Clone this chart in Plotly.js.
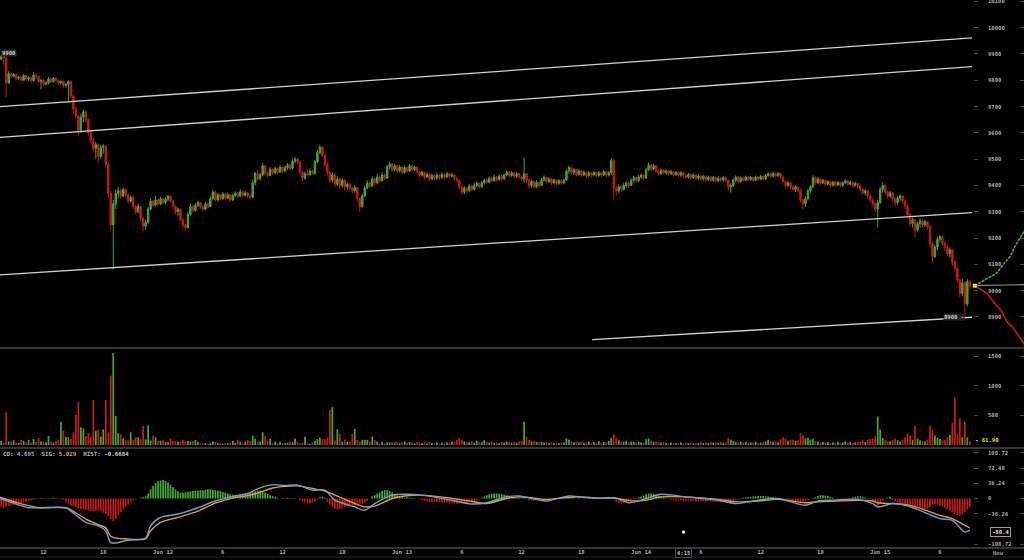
<!DOCTYPE html>
<html><head><meta charset="utf-8">
<script src="https://cdn.plot.ly/plotly-3.0.1.min.js"></script>
<style>html,body{margin:0;padding:0;background:#000;}#chart{width:1024px;height:560px;}</style>
</head><body><div id="chart"></div>
<script>
// ---- time base (15-minute candles, hours since Jun 11 00:00) ----
const startHour = 7.5;
const stepHour = 0.25;
const firstOpen = 9872;

// ---- candle data ----
const closes = [
9880,9890,9885,9790,9825,9815,9822,9808,9812,9800,
9818,9805,9810,9798,9820,9815,9795,9800,9785,9790,
9805,9795,9808,9800,9790,9795,9780,9785,9795,9740,
9690,9665,9610,9660,9680,9650,9600,9570,9540,9555,
9510,9545,9550,9480,9370,9250,9330,9370,9380,9360,
9385,9365,9340,9355,9320,9300,9320,9275,9245,9260,
9310,9340,9325,9345,9330,9350,9335,9348,9360,9340,
9320,9300,9310,9270,9250,9240,9290,9320,9305,9325,
9335,9318,9310,9330,9320,9350,9375,9345,9365,9350,
9368,9352,9365,9345,9362,9370,9360,9375,9362,9372,
9360,9355,9410,9445,9425,9440,9475,9445,9438,9462,
9448,9465,9450,9470,9455,9468,9478,9465,9492,9500,
9490,9450,9428,9445,9440,9455,9445,9490,9525,9545,
9515,9480,9450,9420,9440,9405,9425,9400,9420,9395,
9405,9390,9380,9392,9350,9320,9360,9390,9410,9398,
9425,9410,9432,9418,9440,9428,9470,9482,9460,9475,
9455,9470,9450,9468,9455,9475,9460,9470,9452,9440,
9450,9432,9442,9425,9438,9428,9440,9430,9442,9432,
9445,9435,9440,9428,9420,9395,9375,9390,9380,9398,
9385,9400,9408,9395,9410,9420,9412,9428,9418,9432,
9422,9435,9425,9440,9450,9438,9448,9435,9445,9432,
9425,9445,9420,9400,9415,9395,9412,9400,9420,9430,
9415,9425,9410,9420,9408,9418,9410,9420,9455,9468,
9450,9460,9442,9455,9440,9450,9438,9448,9440,9450,
9438,9448,9440,9452,9440,9448,9495,9390,9380,9395,
9385,9400,9410,9400,9420,9430,9418,9432,9440,9428,
9460,9478,9462,9475,9455,9445,9458,9448,9455,9445,
9452,9442,9450,9440,9448,9438,9432,9442,9430,9440,
9428,9436,9425,9435,9422,9432,9420,9430,9418,9428,
9420,9430,9420,9395,9400,9420,9432,9415,9428,9420,
9432,9422,9430,9420,9432,9424,9435,9425,9438,9445,
9435,9445,9438,9446,9432,9415,9400,9410,9395,9385,
9395,9382,9345,9330,9350,9380,9395,9430,9410,9425,
9410,9420,9405,9415,9400,9412,9402,9412,9400,9410,
9418,9405,9412,9400,9408,9398,9385,9372,9380,9360,
9345,9330,9310,9335,9385,9400,9375,9360,9372,9350,
9335,9352,9360,9340,9322,9290,9255,9270,9230,9255,
9265,9250,9262,9245,9180,9130,9165,9195,9205,9180,
9165,9140,9155,9110,9085,9040,8990,9030,8950,9035,9020];
const highs = [
9895,9898,9905,9888,9835,9830,9828,9825,9818,9815,
9825,9820,9815,9812,9830,9828,9818,9805,9805,9795,
9812,9810,9812,9810,9805,9800,9798,9790,9800,9790,
9745,9700,9670,9672,9690,9685,9655,9610,9580,9565,
9560,9555,9558,9552,9490,9380,9345,9385,9395,9390,
9392,9388,9370,9362,9358,9325,9330,9322,9280,9268,
9318,9350,9345,9360,9350,9358,9352,9356,9365,9362,
9345,9325,9318,9312,9275,9255,9300,9330,9325,9332,
9342,9338,9325,9338,9335,9358,9385,9380,9372,9368,
9375,9370,9372,9368,9370,9378,9375,9385,9380,9380,
9376,9368,9420,9452,9460,9448,9485,9478,9452,9470,
9465,9472,9468,9478,9472,9475,9485,9482,9500,9508,
9505,9495,9455,9452,9462,9465,9460,9498,9535,9555,
9550,9520,9488,9455,9450,9445,9435,9430,9428,9425,
9412,9410,9395,9400,9395,9355,9368,9400,9420,9415,
9435,9430,9445,9436,9450,9445,9478,9490,9485,9482,
9478,9478,9472,9476,9470,9482,9478,9476,9472,9455,
9456,9452,9450,9445,9445,9442,9448,9444,9450,9446,
9452,9448,9448,9442,9432,9425,9400,9398,9395,9405,
9402,9410,9415,9412,9418,9425,9425,9435,9432,9440,
9436,9442,9440,9446,9456,9455,9455,9452,9452,9448,
9438,9505,9448,9425,9422,9418,9420,9415,9428,9438,
9432,9432,9428,9426,9422,9425,9422,9426,9462,9475,
9470,9466,9462,9462,9458,9456,9452,9455,9450,9456,
9452,9455,9450,9458,9455,9455,9502,9500,9400,9405,
9400,9410,9416,9415,9428,9436,9432,9440,9446,9442,
9468,9487,9482,9482,9478,9460,9465,9462,9462,9458,
9460,9456,9456,9455,9455,9452,9442,9448,9445,9446,
9442,9442,9440,9440,9438,9438,9435,9436,9432,9435,
9432,9436,9434,9422,9408,9428,9438,9435,9434,9432,
9438,9435,9436,9432,9438,9436,9440,9438,9444,9450,
9450,9452,9450,9452,9448,9435,9418,9416,9412,9400,
9402,9398,9388,9350,9358,9388,9402,9440,9435,9432,
9428,9426,9422,9420,9418,9418,9415,9418,9414,9416,
9424,9420,9418,9414,9414,9410,9402,9390,9386,9382,
9365,9350,9335,9345,9395,9410,9405,9380,9380,9375,
9355,9360,9368,9362,9345,9328,9295,9278,9272,9262,
9275,9270,9270,9265,9250,9185,9175,9205,9212,9210,
9185,9175,9165,9160,9115,9090,9045,9045,9035,9045,9040];
const lows = [
9870,9875,9860,9735,9785,9808,9810,9800,9800,9795,
9798,9800,9798,9790,9795,9805,9788,9765,9778,9780,
9785,9790,9792,9795,9782,9785,9772,9770,9722,9730,
9670,9655,9590,9600,9640,9640,9590,9560,9530,9500,
9490,9500,9520,9470,9355,9232,9080,9310,9350,9350,
9355,9358,9330,9335,9310,9290,9295,9265,9225,9230,
9255,9305,9318,9320,9322,9325,9328,9330,9340,9335,
9312,9290,9285,9262,9235,9228,9235,9285,9298,9300,
9318,9310,9300,9305,9312,9318,9345,9340,9340,9342,
9345,9345,9348,9338,9340,9355,9352,9355,9355,9358,
9352,9348,9352,9400,9418,9420,9435,9438,9430,9435,
9440,9442,9442,9448,9448,9450,9460,9458,9460,9485,
9482,9440,9420,9422,9435,9438,9440,9442,9485,9520,
9508,9470,9440,9410,9412,9395,9398,9385,9392,9380,
9385,9380,9370,9372,9340,9298,9315,9355,9385,9390,
9395,9402,9405,9410,9415,9420,9425,9462,9452,9455,
9448,9450,9442,9445,9448,9452,9452,9455,9445,9432,
9435,9425,9428,9418,9420,9420,9422,9422,9425,9425,
9428,9428,9430,9420,9412,9385,9365,9368,9372,9375,
9378,9380,9395,9388,9390,9405,9405,9408,9412,9415,
9415,9418,9418,9422,9435,9432,9432,9428,9430,9426,
9418,9410,9410,9390,9392,9388,9390,9392,9398,9415,
9408,9410,9402,9405,9400,9402,9404,9405,9418,9445,
9442,9440,9435,9438,9432,9435,9430,9432,9432,9435,
9430,9432,9432,9436,9432,9434,9440,9345,9365,9372,
9375,9380,9392,9392,9398,9412,9410,9412,9425,9420,
9425,9455,9455,9458,9448,9438,9440,9442,9440,9438,
9440,9435,9436,9432,9432,9430,9425,9426,9422,9425,
9420,9420,9418,9418,9415,9416,9412,9414,9410,9412,
9412,9415,9412,9380,9372,9395,9412,9408,9410,9414,
9418,9416,9418,9414,9418,9418,9420,9420,9422,9432,
9428,9430,9430,9432,9425,9408,9392,9395,9385,9378,
9375,9372,9335,9308,9320,9345,9372,9390,9402,9405,
9402,9405,9398,9400,9392,9396,9395,9398,9394,9395,
9405,9398,9400,9392,9395,9390,9378,9365,9362,9350,
9335,9320,9300,9240,9330,9372,9365,9350,9352,9340,
9322,9325,9340,9330,9310,9280,9245,9240,9205,9225,
9240,9240,9242,9232,9165,9110,9125,9155,9185,9170,
9150,9130,9125,9095,9075,9030,8975,8980,8895,8940,9005];
const volumes = [
50,68,40,560,60,60,80,40,35,85,
68,40,85,40,100,50,115,60,55,45,
150,55,40,73,85,390,245,140,130,100,
215,510,730,300,280,150,200,140,760,240,
265,140,265,760,210,1170,1550,490,200,180,
110,85,75,215,85,130,130,95,320,95,
330,75,160,130,68,68,85,45,45,110,
68,68,55,55,85,55,68,55,68,85,
55,30,30,30,20,30,55,50,30,30,
20,30,30,40,68,30,85,55,30,55,
85,70,160,110,55,60,215,150,73,100,
30,55,30,55,30,30,40,55,45,110,
55,30,40,140,30,20,55,73,100,125,
100,100,125,590,640,75,265,186,55,95,
55,55,186,270,85,55,85,85,85,55,
140,85,55,20,55,30,45,45,45,
40,55,30,45,60,35,50,40,30,55,
45,30,40,25,50,35,30,45,25,40,
30,45,35,55,60,85,120,95,60,50,
45,60,40,70,55,45,80,50,40,55,
35,45,30,50,40,60,45,35,50,40,
55,70,390,140,90,60,70,50,45,55,
40,50,35,45,30,40,35,45,40,110,
90,60,45,55,40,60,35,45,55,30,
50,40,65,35,50,45,70,120,180,110,
80,60,55,70,45,60,50,40,55,45,
40,95,110,70,55,60,45,40,50,35,
30,40,25,35,30,45,25,35,30,40,
25,35,30,45,35,40,30,50,40,45,
35,50,40,45,120,90,70,55,45,60,
40,50,35,45,40,55,35,40,50,60,
90,70,55,60,45,95,130,110,70,85,
90,70,80,200,170,110,120,90,100,70,
60,45,55,40,50,35,45,40,55,35,
45,60,40,50,35,45,55,60,80,50,
90,100,110,150,480,260,120,90,70,60,
90,110,80,60,90,130,200,160,90,320,
110,80,70,60,90,330,260,160,120,100,
80,90,130,170,370,800,180,450,130,390,
130,62];
const macdHist = [
-18,-20,-22,-20,-18,
-16,-15,-14,-13,-12,-10,-8,-6,-5,
-3,-2,1,2,1,-1,-2,1,2,1,-1,-2,-3,
-8,-12,-16,-19,-21,-23,-25,-26,-27,-29,-30,-31,-30,-28,-30,-34,-37,-42,-50,-55,-48,-40,-32,-25,-20,-15,-9,
-4,-2,0,2,3,5,
12,22,30,37,41,43,44,
42,38,33,27,22,17,14,
14,15,16,17,18,18,19,20,20,21,22,22,21,20,19,18,16,14,
12,10,9,9,8,9,10,11,12,13,15,17,19,19,
17,14,11,8,6,4,2,0,
2,-1,2,1,-2,1,0,
-4,-7,-9,-11,-11,-10,-8,-3,3,
4,2,
-8,-15,-20,-24,-26,-25,-22,-20,-18,-17,-16,-15,-14,-13,-12,-10,-6,
0,5,8,12,15,18,20,20,18,15,11,7,
4,3,2,3,2,2,1,0,-2,
-4,-6,-7,-8,-8,-8,-9,-9,-10,-10,-10,-11,-11,-12,-12,-12,-11,-11,-10,-9,-8,-6,-4,-2,
2,5,8,10,11,12,12,11,10,9,8,6,4,
3,2,1,1,3,
-2,-4,-5,-5,-5,-4,-3,-2,
-1,-2,-1,1,1,0,1,2,3,3,2,1,0,
1,0,-1,0,1,0,-1,0,1,0,0,-1,0,1,-2,
-8,-11,-12,-11,-9,-6,-4,-2,
1,3,5,7,10,12,12,11,9,7,5,3,1,
-2,-3,-4,-5,-5,-5,-6,-5,-5,-6,-6,-7,-7,-6,-6,-7,-7,-7,-8,-8,-8,-9,-9,-9,-8,-7,-5,-3,-2,
1,2,3,3,4,5,5,6,6,6,5,5,4,3,2,1,0,
-2,-3,-4,-5,-6,-7,-8,-8,-7,-6,-4,-2,1,3,
6,8,8,7,6,4,2,0,-2,
-3,-3,-2,-1,1,
3,4,5,5,4,3,1,-1,
-5,-10,-18,-12,-6,-2,
2,4,
-4,-7,-9,-10,-11,-12,-13,-14,-15,-17,-19,-21,-23,-25,-24,-20,-16,-13,-14,-16,-19,-22,-25,-29,-33,-37,-40,-41,-38,-32,-26,-20];

// ---- MACD / signal lines (read at candle indices) ----
const macdIdx = [0,8,12,16,27,29,35,40,43,45,48,51,59,61,65,72,80,87,94,100,104,110,115,120,126,131,135,143,147,151,158,163,170,180,190,196,204,209,216,220,229,233,241,248,253,260,266,276,289,296,305,313,324,329,336,345,351,353,359,364,369,378,383,388,390];
const macdLine = [1,-15,-22,-22,-22,-30,-57,-65,-77,-105,-105,-100,-94,-65,-45,-37,-22,-6,5,12,23,33,31,32,20,20,-4,-20,-28,-12,8,10,8,-2,-13,-10,4,6,-2,-6,6,4,1,1,-10,0,10,4,-4,-12,-4,0,-16,-6,-4,-2,-12,-20,-12,-16,-26,-48,-52,-80,-75];
const signalLine = [4,-11,-17,-22,-22,-27,-49,-62,-70,-90,-95,-96,-96,-77,-57,-45,-30,-11,1,7,13,25,29,30,24,18,8,-12,-20,-18,0,6,8,2,-7,-12,0,4,0,-2,3,4,1,1,-5,-4,4,4,-2,-8,-6,-2,-10,-8,-6,-4,-6,-10,-12,-14,-21,-40,-48,-64,-70];

// ---- trend lines ----
const trendStartHours = [7.63, 7.63, 7.63, 67.08];
const trendEndHours = [105.22, 105.22, 105.22, 105.22];
const trendStartPrices = [9700, 9583, 9060, 8814];
const trendEndPrices = [9961, 9852, 9297, 8899];

// ---- forecast cone ----
const coneUpHours = [105.5, 107.7, 108.2, 109.04, 109.71, 110.44];
const coneUpPrices = [9019, 9067, 9092, 9130, 9181, 9224];
const coneDownHours = [105.5, 106.69, 107.36, 108.2, 108.71, 109.37, 110.44];
const coneDownPrices = [9019, 8991, 8959, 8921, 8883, 8858, 8798];
const coneMidHours = [105.5, 110.44];
const coneMidPrices = [9019, 9023];
const lastPriceHours = [105.5];
const lastPrices = [9019];
const cursorHours = [76.25];
const cursorMacd = [-80];

// ---- axis ticks ----
const timeTickHours = [12,18,24,30,36,42,48,54,60,66,72,78,84,90,96,102];
const timeTickLabels = ['12','18','Jun 12','6','12','18','Jun 13','6','12','18','Jun 14','6','12','18','Jun 15','6'];
const priceTicks = [8900,9000,9100,9200,9300,9400,9500,9600,9700,9800,9900,10000,10100];
const volumeTicks = [500,1000,1500];
const macdTicks = [-108.72,-36.24,0,36.24,72.48,108.72];
const macdTickLabels = ['-108.72','-36.24','0','36.24','72.48','108.72'];

// ---- build ----
const G = '#42a634', R = '#c41b1b';
const MONO = 'DejaVu Sans Mono';
const FS = 5.6;
const hours = closes.map((_, i) => startHour + stepHour * i);
const opens = closes.map((c, i) => i === 0 ? firstOpen : closes[i - 1]);
const candleColors = closes.map((c, i) => c >= opens[i] ? G : R);
const histColors = macdHist.map(v => v >= 0 ? '#45a437' : '#b81a1a');
const macdHours = macdIdx.map(i => startHour + stepHour * i);

const traces = [];
traces.push({type:'candlestick', x:hours, open:opens, high:highs, low:lows, close:closes,
  xaxis:'x', yaxis:'y', whiskerwidth:0, hoverinfo:'skip',
  increasing:{line:{color:G, width:1}, fillcolor:G},
  decreasing:{line:{color:R, width:1}, fillcolor:R}});
for (let k = 0; k < trendStartHours.length; k++) {
  traces.push({type:'scatter', mode:'lines', x:[trendStartHours[k], trendEndHours[k]],
    y:[trendStartPrices[k], trendEndPrices[k]], xaxis:'x', yaxis:'y',
    line:{color:'#d0d0d0', width:1.3}, hoverinfo:'skip'});
}
traces.push({type:'scatter', mode:'lines', x:coneMidHours, y:coneMidPrices, xaxis:'x', yaxis:'y',
  line:{color:'#8a8a8a', width:1.2}, hoverinfo:'skip'});
traces.push({type:'scatter', mode:'lines', x:coneUpHours, y:coneUpPrices, xaxis:'x', yaxis:'y',
  line:{color:'#3fae2f', width:1.6, dash:'3px,1px'}, hoverinfo:'skip'});
traces.push({type:'scatter', mode:'lines', x:coneDownHours, y:coneDownPrices, xaxis:'x', yaxis:'y',
  line:{color:'#c81818', width:1.6}, hoverinfo:'skip'});
traces.push({type:'scatter', mode:'markers', x:lastPriceHours, y:lastPrices, xaxis:'x', yaxis:'y',
  marker:{symbol:'square', size:4, color:'#e8dc00'}, hoverinfo:'skip'});
traces.push({type:'bar', x:hours, y:volumes, xaxis:'x', yaxis:'y2',
  marker:{color:candleColors, line:{width:0}}, hoverinfo:'skip'});
traces.push({type:'bar', x:hours, y:macdHist, xaxis:'x', yaxis:'y3',
  marker:{color:histColors, line:{width:0}}, hoverinfo:'skip'});
traces.push({type:'scatter', mode:'lines', x:macdHours, y:signalLine, xaxis:'x', yaxis:'y3',
  line:{color:'#e39a3a', width:1.4, shape:'spline', smoothing:0.8}, hoverinfo:'skip'});
traces.push({type:'scatter', mode:'lines', x:macdHours, y:macdLine, xaxis:'x', yaxis:'y3',
  line:{color:'#6fa0cc', width:1.4, shape:'spline', smoothing:0.8}, hoverinfo:'skip'});
traces.push({type:'scatter', mode:'markers', x:cursorHours, y:cursorMacd, xaxis:'x', yaxis:'y3',
  marker:{symbol:'square', size:3, color:'#d8d8d8'}, hoverinfo:'skip'});
// empty traces to register the overlay axes (tick dashes and tick labels)
['y4','y5','y6','y7','y8','y9'].forEach(a => traces.push({type:'scatter', mode:'lines', x:[], y:[], xaxis:'x', yaxis:a, hoverinfo:'skip'}));

const tickFont = {family:MONO, size:FS, color:'#a8a8a8', weight:'bold'};
const PR = [8784, 10105.3], VR = [-17, 1602], MR = [-115.6, 115.6];
const PD = [0.3795, 1], VD = [0.2036, 0.375], MD = [0.0232, 0.1964];
function baseAxis(domain, range, vals) {
  return {domain, range, side:'right', anchor:'x', tickmode:'array', tickvals:vals,
    ticks:'inside', ticklen:4, tickcolor:'#4a4a4a', showticklabels:false,
    showgrid:false, zeroline:false, showline:false, fixedrange:true};
}
function dashAxis(over, range, vals) {
  return {overlaying:over, range, anchor:'free', position:973/1024, side:'right', tickmode:'array', tickvals:vals,
    ticks:'outside', ticklen:4, tickcolor:'#4a4a4a', showticklabels:false, showgrid:false,
    zeroline:false, showline:false, fixedrange:true};
}
function labelAxis(over, range, vals, text) {
  return {overlaying:over, range, anchor:'free', position:987/1024, side:'right', tickmode:'array', tickvals:vals,
    ticktext:text, ticks:'', tickfont:tickFont, ticklabeloverflow:'allow', showgrid:false, zeroline:false,
    showline:false, fixedrange:true};
}
const sepY = [1 - 348/560, 1 - 448/560, 1 - 548/560];
const shapes = sepY.map(y => ({type:'line', xref:'paper', yref:'paper', x0:0, x1:1, y0:y, y1:y,
  line:{color:'#343434', width:2}}));
shapes.push({type:'line', xref:'paper', yref:'paper', x0:0, x1:1, y0:3/560, y1:3/560, line:{color:'#262626', width:1}});

const annFont = (c, s) => ({family:MONO, size:s || FS, color:c, weight:'bold'});
const annotations = [
  {xref:'paper', yref:'y', x:0.001, y:9902, xanchor:'left', yanchor:'middle', text:'9900', showarrow:false,
   font:annFont('#c8c8c8'), bgcolor:'#262626', borderpad:0},
  {xref:'x', yref:'y', x:102.31, y:8900, xanchor:'left', yanchor:'middle', text:'8900 -', showarrow:false,
   font:annFont('#c8c8c8'), bgcolor:'#262626', borderpad:0},
  {xref:'paper', yref:'y2', x:973/1024, y:84, xanchor:'left', yanchor:'middle', text:'- 61.90', showarrow:false,
   font:annFont('#e8e000')},
  {xref:'paper', yref:'paper', x:0.5/1024, y:1 - 454/560, xanchor:'left', yanchor:'middle', showarrow:false,
   text:'CD: <span style="color:#7fb2dc">4.695</span>&nbsp;&nbsp;SIG: <span style="color:#e8a040">5.029</span>&nbsp;&nbsp;HIST: <span style="color:#cfcfcf">-0.6684</span>',
   font:annFont('#b8b8b8', 5.8)},
  {xref:'paper', yref:'y3', x:1000/1024, y:-80.4, xanchor:'center', yanchor:'middle', text:'-80.4', showarrow:false,
   font:annFont('#dcdcdc'), bgcolor:'#000', bordercolor:'#9a9a9a', borderwidth:1, borderpad:1},
  {xref:'x', yref:'paper', x:76.25, y:1 - 552.5/560, xanchor:'center', yanchor:'middle', text:'4:15', showarrow:false,
   font:annFont('#bcbcbc'), bgcolor:'#000', bordercolor:'#484848', borderwidth:1, borderpad:1},
  {xref:'paper', yref:'paper', x:998/1024, y:1 - 552.5/560, xanchor:'center', yanchor:'middle', text:'Now', showarrow:false,
   font:annFont('#9a9a9a')}
];
const lens = [closes.length, highs.length, lows.length, volumes.length, macdHist.length];
if (new Set(lens).size > 1 || macdIdx.length !== macdLine.length || macdIdx.length !== signalLine.length) {
  annotations.push({xref:'paper', yref:'paper', x:0.5, y:0.7, text:'LEN ' + lens.join(',') + ' / ' + [macdIdx.length, macdLine.length, signalLine.length].join(','),
    showarrow:false, font:{size:16, color:'#ff0'}});
}

const layout = {
  width:1024, height:560, margin:{l:0, r:0, t:0, b:0},
  paper_bgcolor:'#000', plot_bgcolor:'#000', showlegend:false, hovermode:false,
  bargap:0.3, boxgap:0.2,
  xaxis:{domain:[0,1], range:[7.63, 110.44], anchor:'y3', tickmode:'array', tickvals:timeTickHours, ticktext:timeTickLabels,
    ticks:'', showgrid:false, zeroline:false, showline:false, tickfont:tickFont, rangeslider:{visible:false}, fixedrange:true},
  yaxis: baseAxis(PD, PR, priceTicks),
  yaxis2: baseAxis(VD, VR, volumeTicks),
  yaxis3: baseAxis(MD, MR, macdTicks),
  yaxis4: dashAxis('y', PR, priceTicks),
  yaxis5: dashAxis('y2', VR, volumeTicks),
  yaxis6: dashAxis('y3', MR, macdTicks),
  yaxis7: labelAxis('y', PR, priceTicks, priceTicks.map(String)),
  yaxis8: labelAxis('y2', VR, volumeTicks, volumeTicks.map(String)),
  yaxis9: labelAxis('y3', MR, macdTicks, macdTickLabels),
  shapes, annotations
};
Plotly.newPlot('chart', traces, layout, {staticPlot:true, displayModeBar:false});
</script></body></html>
